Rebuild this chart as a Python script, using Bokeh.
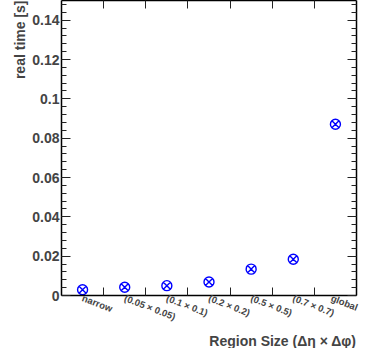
from bokeh.plotting import figure
from bokeh.models import LinearAxis, FixedTicker, Range1d, ColumnDataSource, Title
from bokeh.embed import file_html
from bokeh.resources import INLINE

# ---- data ----
categories = ["narrow", "(0.05 \u00d7 0.05)", "(0.1 \u00d7 0.1)", "(0.2 \u00d7 0.2)",
              "(0.5 \u00d7 0.5)", "(0.7 \u00d7 0.7)", "global"]
real_time = [0.0029, 0.0042, 0.0050, 0.0069, 0.0134, 0.0184, 0.0871]
y_ticks = [0, 0.02, 0.04, 0.06, 0.08, 0.10, 0.12, 0.14]
y_tick_labels = ["0", "0.02", "0.04", "0.06", "0.08", "0.1", "0.12", "0.14"]
x_title = "Region Size (\u0394\u03b7 \u00d7 \u0394\u03c6)"
y_title = "real time [s]"

n = len(categories)
x_centers = [i + 0.5 for i in range(n)]
x_bounds = [i for i in range(1, n)]
y_minor = [round(i * 0.004, 4) for i in range(38)]

FONT = "Liberation Sans"

p = figure(width=359, height=348, output_backend="svg", toolbar_location=None,
           x_range=Range1d(0, n), y_range=Range1d(0, 0.15),
           x_axis_location=None, y_axis_location=None,
           min_border_left=61, min_border_right=3, min_border_top=0, min_border_bottom=10)
p.outline_line_color = None
p.xgrid.visible = False
p.ygrid.visible = False
p.background_fill_color = "white"

src = ColumnDataSource(dict(x=x_centers, y=real_time))
p.scatter("x", "y", source=src, marker="circle_x", size=10, fill_color=None,
          line_color="#0000ff", line_width=1.4)

xt = FixedTicker(ticks=x_centers, minor_ticks=x_bounds)
yt = FixedTicker(ticks=y_ticks, minor_ticks=y_minor)


def style_common(ax):
    ax.axis_line_color = "black"
    ax.axis_line_width = 1.5
    ax.major_tick_line_color = "#222222"
    ax.minor_tick_line_color = "#222222"
    ax.major_tick_out = 0
    ax.minor_tick_out = 0


def hide_labels(ax):
    ax.major_label_text_color = None
    ax.major_label_text_font_size = "1px"
    ax.major_label_standoff = 0


# bottom x axis
xb = LinearAxis(ticker=xt)
style_common(xb)
xb.major_tick_line_color = None
xb.minor_tick_in = 8
xb.major_label_overrides = {c: lab for c, lab in zip(x_centers, categories)}
xb.major_label_orientation = -0.37
xb.major_label_standoff = 2
xb.major_label_text_font = FONT
xb.major_label_text_font_style = "bold"
xb.major_label_text_font_size = "9.5px"
p.add_layout(xb, "below")

# top x axis (ticks only)
xa = LinearAxis(ticker=xt)
style_common(xa)
xa.major_tick_line_color = None
xa.minor_tick_in = 8
hide_labels(xa)
p.add_layout(xa, "above")

# left y axis
yl = LinearAxis(ticker=yt)
style_common(yl)
yl.major_tick_in = 9
yl.minor_tick_in = 5
yl.major_label_overrides = {t: lab for t, lab in zip(y_ticks, y_tick_labels)}
yl.major_label_standoff = 2
yl.major_label_text_font = FONT
yl.major_label_text_font_style = "bold"
yl.major_label_text_font_size = "14px"
p.add_layout(yl, "left")

# right y axis (ticks only)
yr = LinearAxis(ticker=yt)
style_common(yr)
yr.major_tick_in = 9
yr.minor_tick_in = 5
hide_labels(yr)
p.add_layout(yr, "right")

# axis titles (ROOT style: aligned to the far end of each axis)
tx = Title(text=x_title, align="right", text_font=FONT, text_font_style="bold",
           text_font_size="14px", standoff=0, offset=0)
p.add_layout(tx, "below")
ty = Title(text=y_title, align="right", text_font=FONT, text_font_style="bold",
           text_font_size="14px", standoff=4, offset=0)
p.add_layout(ty, "left")

open("out.html", "w").write(file_html(p, INLINE))
